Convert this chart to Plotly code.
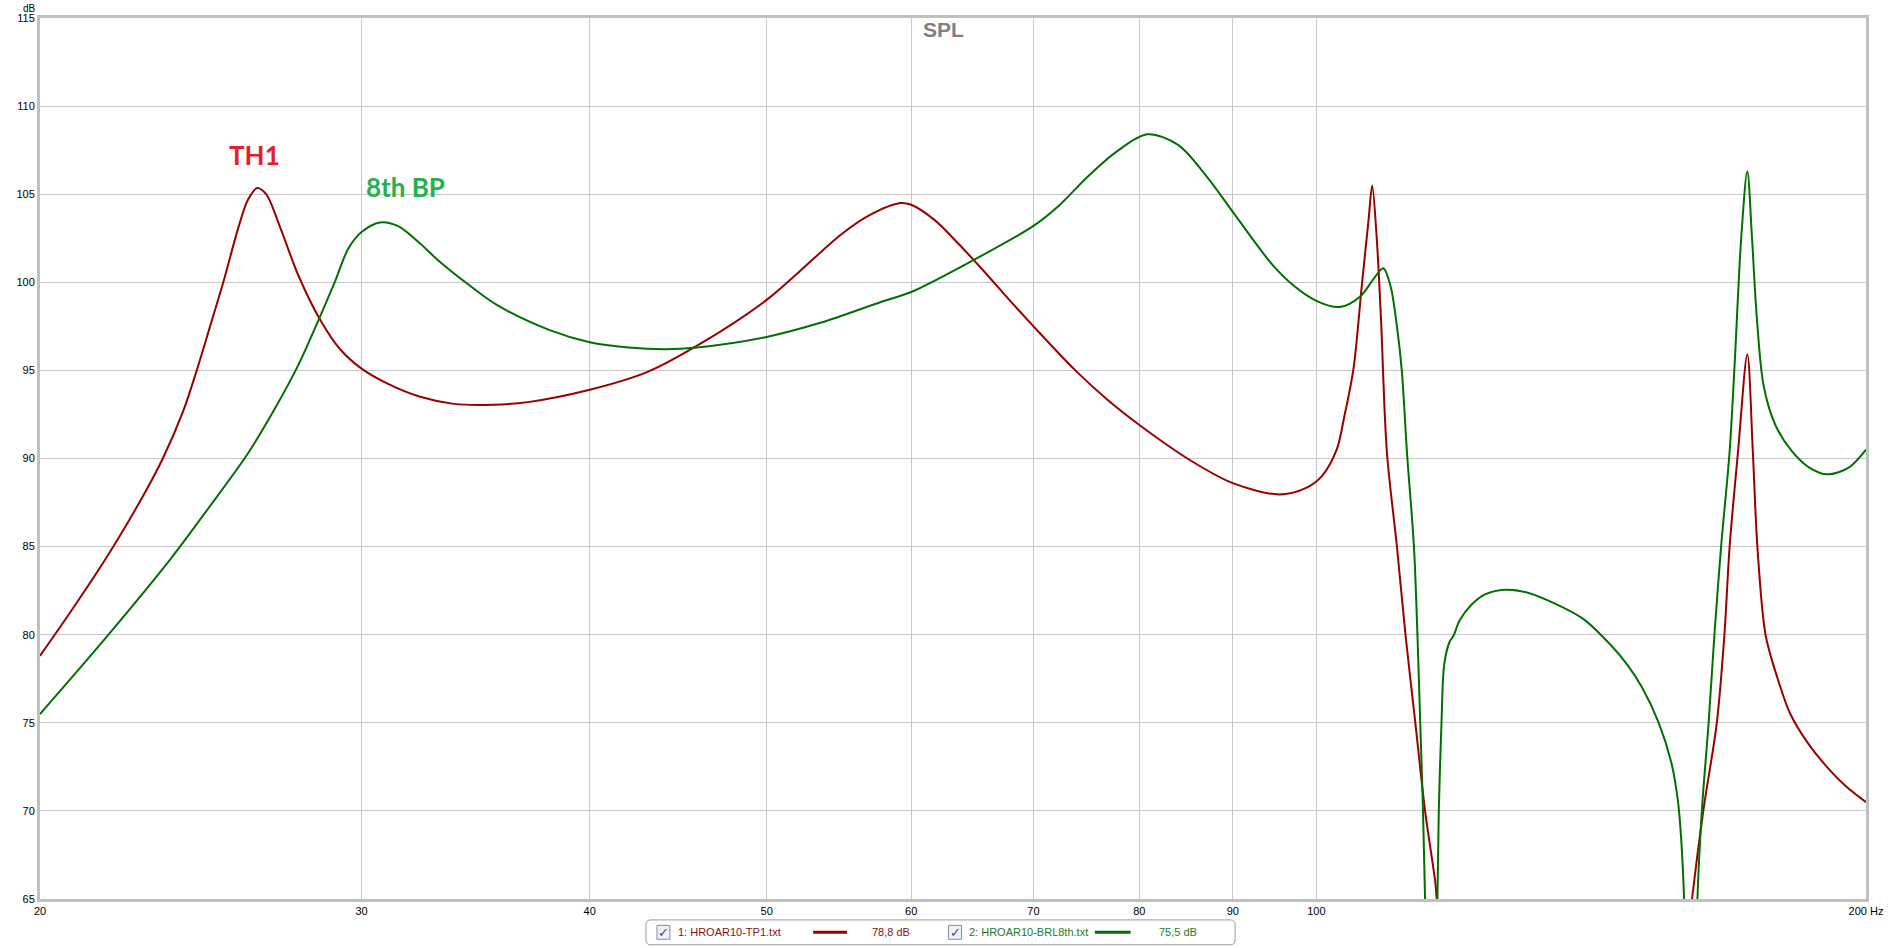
import plotly.graph_objects as go
import math

# ---------------- data ----------------
th1_freq = [20, 20.85, 21.74, 22.67, 23.35, 23.96, 24.37, 24.8, 25.2, 25.7, 26.0, 26.3, 26.6, 27.1,
            27.7, 28.5, 29.2, 30, 31, 32.3, 33.7, 35.4, 37, 40, 43, 45.8, 50, 52.1, 54.9, 56.9, 59.2,
            60, 61.85, 63.8, 65.8, 67.9, 70, 73.8, 76.9, 80, 85.3, 90, 95.4, 98.6, 100.7, 102.6,
            103.6, 104.8, 105.9, 106.8, 107.3, 107.9, 108.5, 109.3, 110.7, 111.9, 113.3, 114.7,
            116.2, 116.4, 118, 130, 150, 158, 160.6, 162.9, 165.7, 167.3, 168.4, 170.2, 172.2,
            173.4, 174.4, 176.2, 178.8, 181.8, 186, 190, 195, 200]
th1_db = [78.8, 81.5, 84.35, 87.5, 90, 92.7, 95, 97.6, 100, 103.2, 104.7, 105.35, 105.0, 103.0,
          100.4, 97.8, 96.2, 95.1, 94.25, 93.5, 93.1, 93.05, 93.2, 93.9, 94.9, 96.4, 99.0, 100.6,
          102.7, 103.8, 104.5, 104.4, 103.5, 102.1, 100.6, 99.0, 97.5, 95.0, 93.3, 91.9, 89.9,
          88.6, 87.96, 88.3, 89.0, 90.5, 92.4, 95.1, 99.8, 103.5, 105.5, 102.6, 97.9, 90.4, 85,
          80, 75, 70, 65.9, 65.0, 58, 45, 48, 58, 65, 70, 75, 80, 85, 90.4, 95.9, 90.4, 85, 80,
          77.6, 75.5, 73.8, 72.6, 71.4, 70.5]

bp8_freq = [20, 21.74, 23.6, 24.7, 26.0, 26.9, 27.7, 28.4, 29.0, 29.5, 30, 30.7, 31.4, 32.3, 33.0,
            34.4, 35.6, 38, 40, 42, 44, 45.8, 50, 53.5, 57.8, 60, 64.1, 70, 72.3, 74.9, 77.7, 80.8,
            84.0, 87.1, 90, 94.6, 97.2, 100, 103, 105.7, 107.5, 108.8, 109.8, 110.7, 111.4, 112.1,
            113.1, 113.6, 114.0, 114.4, 114.7, 115.5, 116.5, 116.7, 117.1, 117.5, 118.3, 118.9,
            119.8, 121.6, 123.8, 126.9, 130.4, 133.9, 140, 145, 148, 150.8, 154.0, 156.5, 157.8,
            158.4, 159.0, 160.3, 161.7, 162.6, 164.0, 165.2, 166.6, 168.4, 169.4, 170.9, 172.2,
            173.2, 174.3, 175.8, 178.4, 182.2, 186.1, 190.5, 195.8, 200]
bp8_db = [75.5, 79.85, 84.35, 87.1, 90.3, 92.85, 95.3, 97.8, 100.0, 101.9, 102.85, 103.4, 103.2,
          102.2, 101.3, 99.8, 98.7, 97.3, 96.6, 96.3, 96.2, 96.3, 96.9, 97.7, 98.9, 99.45, 100.96,
          103.2, 104.36, 105.96, 107.4, 108.4, 107.8, 106.0, 104.0, 101.0, 99.8, 98.95, 98.6, 99.2,
          100.2, 100.8, 99.8, 97.5, 94.9, 90.4, 85, 80, 75, 70, 65, 45, 65, 70, 75, 78.3, 79.6,
          79.95, 80.8, 81.7, 82.3, 82.55, 82.4, 81.95, 80.9, 79.4, 78.3, 77.0, 75.0, 72.7, 70.5,
          68.5, 65, 45, 65, 70, 75, 80, 85, 90.4, 95, 102.6, 106.3, 102.6, 97.9, 94.1, 91.9, 90.4,
          89.5, 89.1, 89.5, 90.5]

x_ticks = [20, 30, 40, 50, 60, 70, 80, 90, 100, 200]
x_tick_labels = ["20", "30", "40", "50", "60", "70", "80", "90", "100", "200 Hz"]
y_ticks = [65, 70, 75, 80, 85, 90, 95, 100, 105, 110, 115]

series_names = ["1: HROAR10-TP1.txt", "2: HROAR10-BRL8th.txt"]
series_levels = ["78,8 dB", "75,5 dB"]

# ---------------- style ----------------
W, H = 1895, 948
ML, MR, MT, MB = 40, 20, 14, 49
PW, PH = W - ML - MR, H - MT - MB
RED = "#990000"
GREEN = "#007000"
FONT = "Arial, Liberation Sans, sans-serif"


def px(x):
    return (x - ML) / PW


def py(y):
    return (H - MB - y) / PH


fig = go.Figure()
fig.add_trace(go.Scatter(x=th1_freq, y=th1_db, mode="lines",
                         line=dict(color=RED, width=2, shape="spline", smoothing=0.9),
                         name=series_names[0], showlegend=False))
fig.add_trace(go.Scatter(x=bp8_freq, y=bp8_db, mode="lines",
                         line=dict(color=GREEN, width=2, shape="spline", smoothing=0.9),
                         name=series_names[1], showlegend=False))

fig.update_layout(
    width=W, height=H,
    margin=dict(l=ML, r=MR, t=MT, b=MB, pad=0),
    paper_bgcolor="white", plot_bgcolor="white",
    font=dict(family=FONT, size=11, color="#000000"),
    showlegend=False,
)
fig.update_xaxes(type="log", range=[math.log10(20), math.log10(200)],
                 tickvals=x_ticks, ticktext=x_tick_labels,
                 showgrid=True, gridcolor="#c8c8c8", gridwidth=1,
                 showline=True, linecolor="#c0c0c0", linewidth=3, mirror=True,
                 ticks="", zeroline=False, tickfont=dict(size=11, family=FONT))
fig.update_yaxes(range=[65, 115], tickvals=y_ticks,
                 showgrid=True, gridcolor="#c8c8c8", gridwidth=1,
                 showline=True, linecolor="#c0c0c0", linewidth=3, mirror=True,
                 ticks="", zeroline=False, tickfont=dict(size=11, family=FONT))

ann = []
# title
ann.append(dict(text="<b>SPL</b>", x=px(948), y=py(26), xref="paper", yref="paper",
                showarrow=False, font=dict(size=21, color="#808080", family=FONT),
                xanchor="center", yanchor="middle"))
# unit label
ann.append(dict(text="dB", x=px(29), y=py(4), xref="paper", yref="paper", showarrow=False,
                font=dict(size=10, color="#000000", family=FONT), xanchor="center", yanchor="middle"))
# curve labels
ann.append(dict(text="<b>TH1</b>", x=px(256), y=py(152), xref="paper", yref="paper",
                showarrow=False, font=dict(size=26, color="#E3202B", family="Lato, sans-serif"),
                xanchor="center", yanchor="middle"))
ann.append(dict(text="<b>8th BP</b>", x=px(407), y=py(184), xref="paper", yref="paper",
                showarrow=False, font=dict(size=26, color="#22B14C", family="Lato, sans-serif"),
                xanchor="center", yanchor="middle"))

shapes = []
# legend box (rounded)
bx0, bx1, by0, by1 = px(649), px(1241), py(945), py(920)
rx, ry = 5 / PW, 5 / PH
path = (f"M {bx0+rx},{by1} L {bx1-rx},{by1} Q {bx1},{by1} {bx1},{by1-ry} "
        f"L {bx1},{by0+ry} Q {bx1},{by0} {bx1-rx},{by0} L {bx0+rx},{by0} "
        f"Q {bx0},{by0} {bx0},{by0+ry} L {bx0},{by1-ry} Q {bx0},{by1} {bx0+rx},{by1} Z")
shapes.append(dict(type="path", path=path, xref="paper", yref="paper",
                   line=dict(color="#9a9a9a", width=1), fillcolor="white"))

legend_items = [
    dict(cb=660, txt=679, l0=817, l1=851, lvl=874, color=RED, tcolor="#8b1010"),
    dict(cb=953, txt=972, l0=1100, l1=1136, lvl=1163, color=GREEN, tcolor="#1e7a1e"),
]
ly = 932.5
for i, it in enumerate(legend_items):
    shapes.append(dict(type="rect", xref="paper", yref="paper",
                       x0=px(it["cb"]), x1=px(it["cb"] + 13), y0=py(ly + 7), y1=py(ly - 7),
                       line=dict(color="#7f8fa6", width=1), fillcolor="#eef2f8"))
    ann.append(dict(text="✓", x=px(it["cb"] + 7), y=py(ly), xref="paper", yref="paper",
                    showarrow=False, font=dict(size=13, color="#2f4f8f", family="DejaVu Sans"),
                    xanchor="center", yanchor="middle"))
    ann.append(dict(text=series_names[i], x=px(it["txt"]), y=py(ly), xref="paper", yref="paper",
                    showarrow=False, font=dict(size=11, color=it["tcolor"], family=FONT),
                    xanchor="left", yanchor="middle"))
    shapes.append(dict(type="line", xref="paper", yref="paper", x0=px(it["l0"]), x1=px(it["l1"]),
                       y0=py(ly), y1=py(ly), line=dict(color=it["color"], width=3)))
    ann.append(dict(text=series_levels[i], x=px(it["lvl"]), y=py(ly), xref="paper", yref="paper",
                    showarrow=False, font=dict(size=11, color=it["tcolor"], family=FONT),
                    xanchor="left", yanchor="middle"))

fig.update_layout(annotations=ann, shapes=shapes)
fig.write_html("out.html", config={"displayModeBar": False},
               post_script="document.body.style.margin='0';document.body.style.overflow='hidden';")
